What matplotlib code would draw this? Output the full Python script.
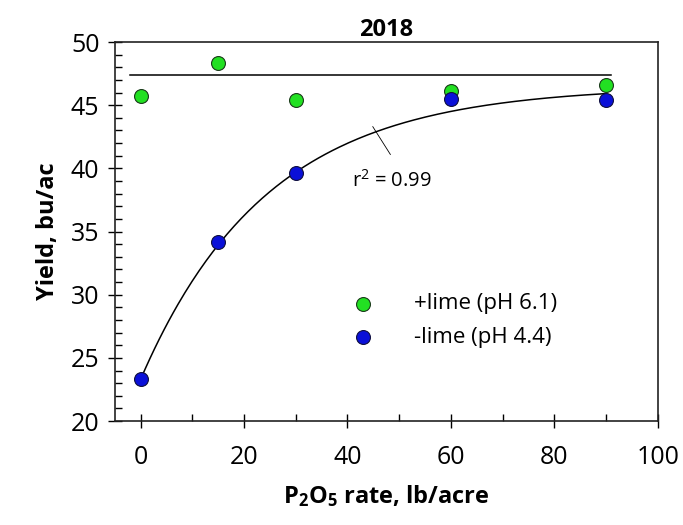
import numpy as np
import matplotlib
matplotlib.use("Agg")
import matplotlib.pyplot as plt
from matplotlib.ticker import MultipleLocator

plt.rcParams['font.family'] = ['Open Sans', 'DejaVu Sans']
plt.rcParams['mathtext.default'] = 'regular'

rate = [0, 15, 30, 60, 90]
lime_plus = [45.7, 48.3, 45.4, 46.1, 46.6]
lime_minus = [23.3, 34.2, 39.6, 45.5, 45.4]
plateau = 47.35
# exponential rise-to-max fit for -lime
fit_y0, fit_a, fit_c = 23.3, 46.5, 0.0409

fig = plt.figure(figsize=(6.83, 5.25), dpi=100)
ax = fig.add_axes([0.168, 0.198, 0.795, 0.722])

xs = np.linspace(0, 90, 200)
ax.plot(xs, fit_a - (fit_a - fit_y0) * np.exp(-fit_c * xs), color='black', lw=1.1, zorder=2)
ax.plot([-2, 91], [plateau, plateau], color='black', lw=1.1, zorder=2)

ax.scatter(rate, lime_plus, s=100, color='#22E022', edgecolor='#1a3a1a', lw=0.8, zorder=3,
           label='+lime (pH 6.1)')
ax.scatter(rate, lime_minus, s=100, color='#0A10D8', edgecolor='#101040', lw=0.8, zorder=3,
           label='-lime (pH 4.4)')

ax.plot([44.9, 48.3], [43.3, 41.1], color='black', lw=0.6)
ax.text(40.8, 39.0, 'r$^2$ = 0.99', fontsize=14.5, va='center', ha='left')

ax.set_xlim(-5, 100)
ax.set_ylim(20, 50)
ax.xaxis.set_major_locator(MultipleLocator(20))
ax.xaxis.set_minor_locator(MultipleLocator(10))
ax.yaxis.set_major_locator(MultipleLocator(5))
ax.yaxis.set_minor_locator(MultipleLocator(1))
ax.tick_params(which='major', direction='inout', length=10, width=1, labelsize=18, pad=6)
ax.tick_params(which='minor', direction='in', length=5, width=1)
ax.tick_params(axis='x', which='major', pad=12)
for s in ax.spines.values():
    s.set_linewidth(1.2)
    s.set_color('#222222')

ax.set_title('2018', fontsize=17, fontweight='bold', pad=3)
ax.set_xlabel('P$_2$O$_5$ rate, lb/acre', fontsize=17, fontweight='bold', labelpad=10)
ax.set_ylabel('Yield, bu/ac', fontsize=17, fontweight='bold', labelpad=8)

ax.legend(loc='center left', bbox_to_anchor=(0.38, 0.265), frameon=False, fontsize=16,
          handletextpad=1.3, labelspacing=0.55, scatterpoints=1)

fig.savefig('out.png', dpi=100)
